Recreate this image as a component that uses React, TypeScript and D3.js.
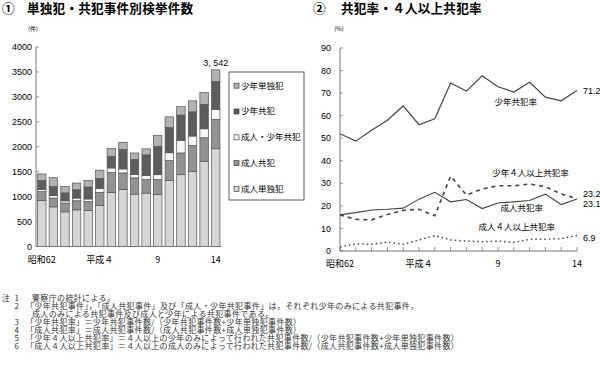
import React from 'react';
import * as d3 from 'd3';

// 年次 (昭和62 〜 平成14)
const years = ['S62', 'S63', 'H1', 'H2', 'H3', 'H4', 'H5', 'H6', 'H7', 'H8', 'H9', 'H10', 'H11', 'H12', 'H13', 'H14'];
const yearLabels: Record<string, string> = { S62: '昭和62', H4: '平成４', H9: '9', H14: '14' };

// ① 検挙件数（件）
const adultSolo = [920, 795, 695, 735, 720, 820, 1085, 1140, 1050, 1070, 1040, 1325, 1440, 1500, 1710, 1960];
const adultGroup = [180, 175, 175, 182, 183, 265, 400, 335, 325, 270, 300, 400, 435, 525, 470, 590];
const mixedGroup = [45, 50, 45, 54, 50, 75, 90, 80, 70, 86, 100, 155, 255, 190, 180, 200];
const juvenileGroup = [175, 180, 160, 167, 240, 205, 235, 390, 300, 411, 570, 505, 505, 485, 490, 560];
const juvenileSolo = [135, 180, 130, 135, 133, 165, 155, 145, 130, 121, 215, 215, 170, 220, 235, 232];
const countTicks = [0, 500, 1000, 1500, 2000, 2500, 3000, 3500, 4000];

const stackKeys = ['adultSolo', 'adultGroup', 'mixedGroup', 'juvenileGroup', 'juvenileSolo'];
const stackFills = ['#d5d5d5', '#939393', '#f6f6f6', '#5d5d5d', '#b2b2b2'];
const legendNames = ['少年単独犯', '少年共犯', '成人・少年共犯', '成人共犯', '成人単独犯'];
const legendFills = ['#b2b2b2', '#5d5d5d', '#f6f6f6', '#939393', '#d5d5d5'];

// ② 共犯率（%）
const juvenileRate = [52.0, 48.7, 53.5, 58.0, 64.3, 56.0, 58.6, 74.5, 70.9, 77.7, 72.8, 70.5, 74.8, 68.2, 66.6, 71.2];
const adultRate = [16.0, 17.0, 18.2, 18.5, 19.0, 23.0, 26.0, 21.8, 22.8, 18.8, 21.3, 21.8, 22.4, 25.2, 20.6, 23.1];
const juvenile4Rate = [16.0, 14.0, 13.8, 16.2, 18.0, 18.5, 15.6, 33.2, 24.8, 27.5, 28.9, 28.9, 29.7, 28.5, 25.3, 23.2];
const adult4Rate = [1.8, 3.1, 3.0, 3.9, 3.0, 4.9, 6.8, 4.9, 4.4, 4.1, 4.4, 3.8, 5.2, 5.2, 5.5, 6.9];
const rateTicks = [0, 10, 20, 30, 40, 50, 60, 70, 80, 90];

const jp = '"Noto Sans CJK JP", "Noto Sans", sans-serif';
const num = '"Liberation Sans Narrow", "Liberation Sans", Arial, sans-serif';

const notes = [
  ['注', '1', '警察庁の統計による。'],
  ['', '2', '「少年共犯事件」，「成人共犯事件」及び「成人・少年共犯事件」は，それぞれ少年のみによる共犯事件，'],
  ['', '', '成人のみによる共犯事件及び成人と少年による共犯事件である。'],
  ['', '3', '「少年共犯率」＝少年共犯事件数/（少年共犯事件数+少年単独犯事件数）'],
  ['', '4', '「成人共犯率」＝成人共犯事件数/（成人共犯事件数+成人単独犯事件数）'],
  ['', '5', '「少年４人以上共犯率」＝４人以上の少年のみによって行われた共犯事件数/（少年共犯事件数+少年単独犯事件数）'],
  ['', '6', '「成人４人以上共犯率」＝４人以上の成人のみによって行われた共犯事件数/（成人共犯事件数+成人単独犯事件数）'],
];

const CountChart = () => {
  const x = d3.scaleBand().domain(years).range([36, 221.5]).paddingInner(0.27).paddingOuter(0.135);
  const y = d3.scaleLinear().domain([0, 4000]).range([246.5, 47]);
  const rows = years.map((yr, i) => ({
    year: yr,
    adultSolo: adultSolo[i],
    adultGroup: adultGroup[i],
    mixedGroup: mixedGroup[i],
    juvenileGroup: juvenileGroup[i],
    juvenileSolo: juvenileSolo[i],
  }));
  const stacked = d3.stack<any>().keys(stackKeys)(rows);
  const last = years.length - 1;
  const lastTotal = stacked[stacked.length - 1][last][1];

  return (
    <g>
      <text x={2} y={13} style={{ fontFamily: jp, fontSize: '12.6px', fontWeight: 700 }}>①</text>
      <text x={27} y={13} style={{ fontFamily: jp, fontSize: '12.6px', fontWeight: 700, letterSpacing: '0.2px' }}>単独犯・共犯事件別検挙件数</text>
      <text x={33} y={31} textAnchor="middle" style={{ fontFamily: jp, fontSize: '6px' }}>(件)</text>
      {countTicks.map(t => (
        <g key={t}>
          <text x={32} y={y(t)} dy="0.35em" textAnchor="end" style={{ fontFamily: num, fontSize: '9px' }}>{t}</text>
          <line x1={36} x2={39} y1={y(t)} y2={y(t)} stroke="#777" strokeWidth={0.8} />
        </g>
      ))}
      {stacked.map((s, k) => (
        <g key={k}>
          {s.map((d, i) => (
            <rect key={i} x={x(years[i])} width={x.bandwidth()} y={y(d[1])} height={y(d[0]) - y(d[1])}
              fill={stackFills[k]} stroke="#555" strokeWidth={0.7} />
          ))}
        </g>
      ))}
      <line x1={36} x2={36} y1={y(0)} y2={y(4000)} stroke="#777" strokeWidth={1} />
      <line x1={36} x2={221.5} y1={y(0)} y2={y(0)} stroke="#777" strokeWidth={1} />
      <text x={x(years[last])! + x.bandwidth() / 2} y={y(lastTotal) - 4} textAnchor="middle"
        style={{ fontFamily: num, fontSize: '9px' }}>3, 542</text>
      {years.filter(yr => yearLabels[yr]).map(yr => (
        <text key={yr} x={x(yr)! + x.bandwidth() / 2} y={263} textAnchor="middle"
          style={{ fontFamily: jp, fontSize: '9px' }}>{yearLabels[yr]}</text>
      ))}
      <rect x={229} y={72} width={75} height={128} fill="white" stroke="#333" strokeWidth={0.8} />
      {legendNames.map((n, i) => (
        <g key={n} transform={`translate(234,${85.7 + i * 25.8})`}>
          <rect x={0} y={-2.5} width={5} height={5} fill={legendFills[i]} stroke="#444" strokeWidth={0.7} />
          <text x={7} y={0} dy="0.35em" style={{ fontFamily: jp, fontSize: '8.5px' }}>{n}</text>
        </g>
      ))}
    </g>
  );
};

const RateChart = () => {
  const x = d3.scalePoint().domain(years).range([340, 577]);
  const y = d3.scaleLinear().domain([0, 90]).range([251, 48]);
  const line = d3.line<number>().x((_, i) => x(years[i])!).y(d => y(d));
  const last = years[years.length - 1];
  const lbl = { fontFamily: jp, fontSize: '8.5px' };
  const numLbl = { fontFamily: num, fontSize: '9px' };

  return (
    <g>
      <text x={313} y={13} style={{ fontFamily: jp, fontSize: '12.6px', fontWeight: 700 }}>②</text>
      <text x={341} y={13} style={{ fontFamily: jp, fontSize: '12.6px', fontWeight: 700, letterSpacing: '0.2px' }}>共犯率・４人以上共犯率</text>
      <text x={339} y={31} textAnchor="middle" style={{ fontFamily: jp, fontSize: '6px' }}>(%)</text>
      {rateTicks.map(t => (
        <g key={t}>
          <text x={331} y={y(t)} dy="0.35em" textAnchor="end" style={numLbl}>{t}</text>
          <line x1={340} x2={343} y1={y(t)} y2={y(t)} stroke="#777" strokeWidth={0.8} />
        </g>
      ))}
      {years.map(yr => (
        <line key={yr} x1={x(yr)} x2={x(yr)} y1={y(0)} y2={y(0) - 4} stroke="#777" strokeWidth={0.8} />
      ))}
      <line x1={340} x2={340} y1={y(0)} y2={y(90)} stroke="#777" strokeWidth={1} />
      <line x1={340} x2={577} y1={y(0)} y2={y(0)} stroke="#777" strokeWidth={1} />
      <path d={line(juvenileRate)!} fill="none" stroke="#444" strokeWidth={1.2} />
      <path d={line(adultRate)!} fill="none" stroke="#444" strokeWidth={1.1} />
      <path d={line(juvenile4Rate)!} fill="none" stroke="#444" strokeWidth={1.6} strokeDasharray="4,4" />
      <path d={line(adult4Rate)!} fill="none" stroke="#444" strokeWidth={1.5} strokeDasharray="1.5,3" />
      {years.filter(yr => yearLabels[yr]).map(yr => (
        <text key={yr} x={x(yr)} y={267} textAnchor="middle" style={{ fontFamily: jp, fontSize: '9px' }}>{yearLabels[yr]}</text>
      ))}
      <text x={x('H10')! + 2} y={y(66)} dy="0.35em" textAnchor="middle" style={lbl}>少年共犯率</text>
      <text x={x('H11')! + 1} y={y(34.6)} dy="0.35em" textAnchor="middle" style={lbl}>少年４人以上共犯率</text>
      <text x={x('H10')! + 8} y={y(18.9)} dy="0.35em" textAnchor="middle" style={lbl}>成人共犯率</text>
      <text x={x('H10')! + 3} y={y(10.8)} dy="0.35em" textAnchor="middle" style={lbl}>成人４人以上共犯率</text>
      <text x={x(last)! + 6} y={y(juvenileRate[15])} dy="0.35em" style={numLbl}>71.2</text>
      <text x={x(last)! + 6} y={y(juvenile4Rate[15]) - 5} dy="0.35em" style={numLbl}>23.2</text>
      <text x={x(last)! + 6} y={y(adultRate[15]) + 5} dy="0.35em" style={numLbl}>23.1</text>
      <text x={x(last)! + 6} y={y(adult4Rate[15]) + 2} dy="0.35em" style={numLbl}>6.9</text>
    </g>
  );
};

const Notes = () => (
  <g style={{ fontFamily: jp, fontSize: '8px', fill: '#333', letterSpacing: '0.35px' }}>
    {notes.map((n, i) => (
      <g key={i}>
        <text x={2} y={301 + i * 8}>{n[0]}</text>
        <text x={17} y={301 + i * 8} textAnchor="middle">{n[1]}</text>
        <text x={n[2].startsWith('「') ? 26 : 32} y={301 + i * 8}>{n[2]}</text>
      </g>
    ))}
  </g>
);

export default function App() {
  return (
    <svg width={600} height={366} style={{ position: 'absolute', left: 0, top: 0, background: 'white' }}>
      <CountChart />
      <RateChart />
      <Notes />
    </svg>
  );
}
